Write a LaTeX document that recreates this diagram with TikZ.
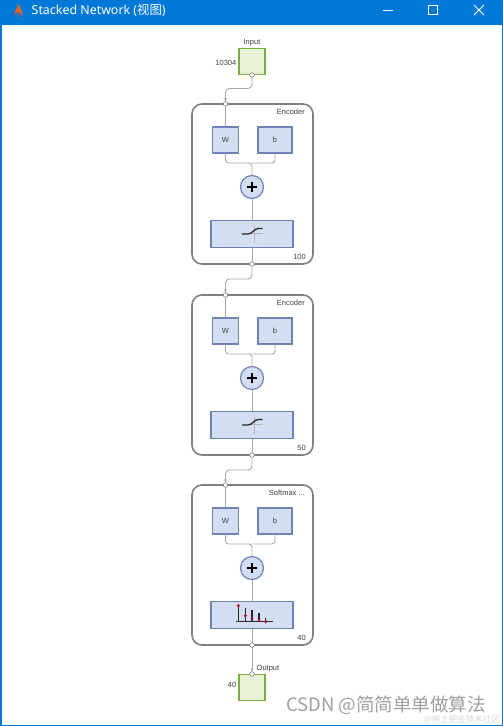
\documentclass[tikz,border=0pt]{standalone}
\usepackage{fontspec}
\setmainfont{Liberation Sans}
\newfontfamily\cjk{Noto Sans CJK SC}
\newfontfamily\titlefont{Noto Sans}
\usetikzlibrary{arrows.meta}

\definecolor{winblue}{HTML}{0078D7}
\definecolor{blkfill}{HTML}{D3DEF2}
\definecolor{blkdraw}{HTML}{7083B8}
\definecolor{infill}{HTML}{E8F1D8}
\definecolor{indraw}{HTML}{7CAF3A}
\definecolor{encdraw}{HTML}{808080}
\definecolor{wire}{HTML}{A8A8A8}
\definecolor{lbl}{HTML}{404040}
\definecolor{dotred}{HTML}{C0102A}
\definecolor{axisgray}{HTML}{B8B8B8}
\definecolor{iconorange}{HTML}{E5631E}
\definecolor{iconblue}{HTML}{2F6FB5}
\newcommand\smxlabel{Softmax ...}

\tikzset{
 lab/.style={font=\fontsize{7.5}{9}\selectfont, text=lbl, inner sep=0},
 encbox/.style={draw=encdraw, line width=1.6, rounded corners=10, minimum width=121, minimum height=160, inner sep=0},
 wbox/.style={draw=blkdraw, fill=blkfill, line width=1.2, minimum height=26, inner sep=0, font=\fontsize{7.5}{9}\selectfont, text=lbl},
 plusnode/.style={circle, draw=blkdraw, fill=blkfill, line width=1.2, minimum size=23, inner sep=0},
 iobox/.style={draw=indraw, fill=infill, line width=1.6, minimum width=26, minimum height=26, inner sep=0},
 wireline/.style={draw=wire, line width=0.9},
 port/.style={circle, draw=gray, fill=white, line width=0.6, minimum size=4.6, inner sep=0},
 arr/.style={-{Stealth[length=3.5pt,width=3pt]}}
}

\begin{document}
\begin{tikzpicture}[x=1pt,y=-1pt]
\useasboundingbox (0,0) rectangle (503,726);
\fill[white] (0,0) rectangle (503,726);
% window frame and title bar
\fill[winblue] (0,0) rectangle (503,25);
\draw[winblue, line width=1.5] (0.75,0) -- (0.75,725.25) -- (502.25,725.25) -- (502.25,0);
\node[anchor=west, text=white, font=\titlefont\fontsize{12.4}{14}\selectfont, inner sep=0] (title) at (31.5,10.5) {Stacked Network ({\cjk 视图})};
% MATLAB icon
\fill[iconblue] (12,14) -- (17,10) -- (24,16) -- (18,18) -- cycle;
\fill[iconorange] (14,13.5) -- (19,4) -- (23,15.5) -- (18,12) -- cycle;
% window controls
\draw[white, line width=0.8] (383,10) -- (393,10);
\draw[white, line width=0.8] (428.5,5.5) rectangle (437.5,14.5);
\draw[white, line width=0.8] (474,5) -- (484,15) (484,5) -- (474,15);

% input
\node[iobox] (in) at (252,61.5) {};
\node[lab] (inlab) at (252,42.3) {Input};
\node[lab, anchor=east] (innum) at (236.5,62.5) {10304};
\coordinate (inp) at (252,75);

% encoder blocks
\foreach \i/\T/\nm/\num in {1/104/Encoder/100,2/295/Encoder/50,3/485/\smxlabel/40}{
 \node[encbox] (enc\i) at (252.5,\T+80) {};
 \node[lab, anchor=east] (name\i) at (305,\T+8.3) {\nm};
 \node[wbox, minimum width=26] (w\i) at (225.5,\T+36) {W};
 \node[wbox, minimum width=34] (b\i) at (275,\T+36) {b};
 \node[plusnode] (p\i) at (252,\T+83) {};
 \draw[line width=1.3, black] ([xshift=-5pt]p\i.center) -- ([xshift=5pt]p\i.center);
 \draw[line width=1.3, black] ([yshift=-5pt]p\i.center) -- ([yshift=5pt]p\i.center);
 \node[wbox, minimum width=82, minimum height=27] (a\i) at (252,\T+130) {};
 \node[lab, anchor=east] (num\i) at (306,\T+152.5) {\num};
 \coordinate (top\i) at (225.5,\T);
 \coordinate (arr\i) at (225.5,\T-2.3);
 \coordinate (bot\i) at (252,\T+160);
 \coordinate (j\i) at (252,\T+59);
 \draw[wireline] (top\i) -- (w\i.north);
 \draw[wireline, rounded corners=3] (w\i.south) |- (j\i) -- (p\i.north);
 \draw[wireline, rounded corners=3] (b\i.south) |- (j\i);
 \draw[wireline] (p\i.south) -- (a\i.north);
 \draw[wireline] (a\i.south) -- (bot\i);
}

% sigmoid icons
\foreach \T in {104,295}{
 \draw[axisgray, line width=0.8] (254.5,\T+122) -- (254.5,\T+139);
 \draw[axisgray, line width=0.8] (250,\T+129.5) -- (263,\T+129.5);
 \draw[black!85, line width=1.3] (242,\T+130) -- (248,\T+130) .. controls (252,\T+130) and (254,\T+125) .. (258,\T+124.5) -- (262.5,\T+124.5);
}

% softmax icon
\draw[black!85, line width=1.1] (236,621.7) -- (272.5,621.7);
\foreach \x/\t/\d in {238.3/605/605.7, 245.3/608.3/615.7, 252/610/619, 259/613.3/620, 265.8/617.7/621.7}{
 \draw[black!85, line width=1.1] (\x,621.7) -- (\x,\t);
 \fill[dotred] (\x,\d) circle (1.7);
}

% output
\node[iobox] (out) at (252,687.5) {};
\node[lab, anchor=west] (outlab) at (256.5,668.3) {Output};
\node[lab, anchor=east] (outnum) at (236.5,684.5) {40};
\coordinate (outp) at (252,674);
\coordinate (outarr) at (252,671.7);

% connectors
\draw[wireline, arr, rounded corners=4] (inp) -- (252,88.5) -| (arr1);
\draw[wireline, arr, rounded corners=4] (bot1) -- (252,279) -| (arr2);
\draw[wireline, arr, rounded corners=4] (bot2) -- (252,470) -| (arr3);
\draw[wireline, arr] (bot3) -- (outarr);

% ports
\foreach \c in {inp,top1,bot1,top2,bot2,top3,bot3,outp}{
 \node[port] at (\c) {};
}

% watermark
\node[anchor=east, text=gray!75, font=\cjk\fontsize{18.5}{21}\selectfont, inner sep=0] (wm) at (486,705) {CSDN @简简单单做算法};
\node[anchor=east, text=gray!30, font=\cjk\fontsize{8.5}{10}\selectfont, inner sep=0] (wm2) at (500,720) {@稀土掘金技术社区};
\end{tikzpicture}
\end{document}
